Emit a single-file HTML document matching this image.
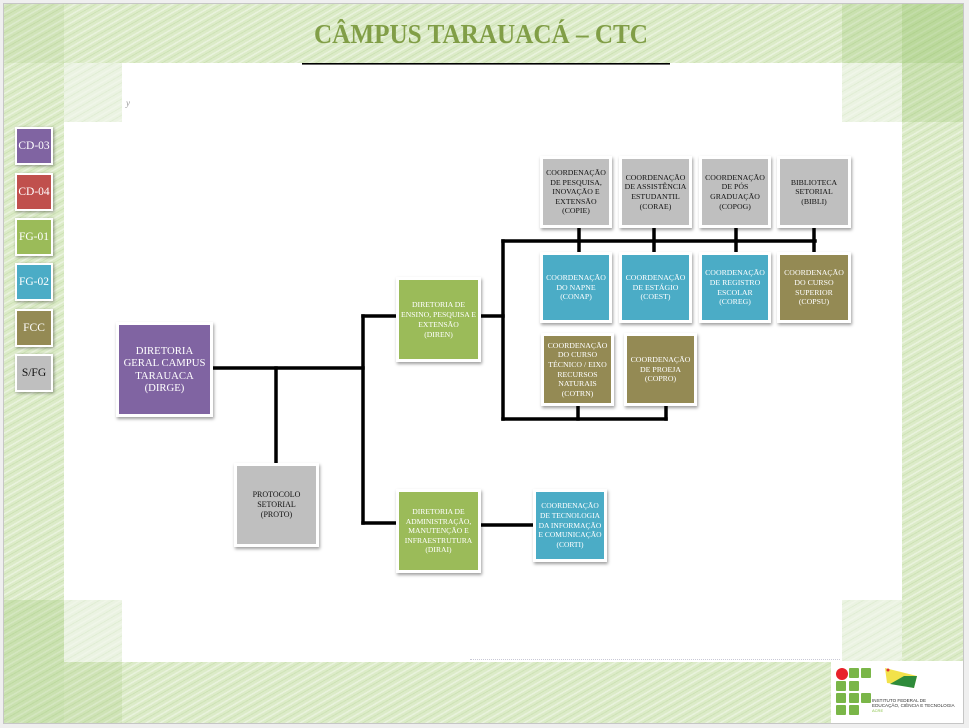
<!DOCTYPE html>
<html><head><meta charset="utf-8">
<style>
html,body{margin:0;padding:0;}
body{width:969px;height:728px;position:relative;overflow:hidden;background:#efefef;font-family:"Liberation Serif","DejaVu Serif",serif;}
.abs{position:absolute;}
.slide{position:absolute;left:4px;top:4px;width:959px;height:719px;background:#dcebc8;box-shadow:0 0 0 1px #c6c6c6;}
.tex{position:absolute;background:repeating-linear-gradient(150deg, rgba(255,255,255,0.38) 0 1.5px, rgba(255,255,255,0) 1.5px 3.5px, rgba(110,170,60,0.13) 3.5px 4.5px, rgba(255,255,255,0) 4.5px 7px);}
.dk{position:absolute;background:rgba(130,185,80,0.2);}
.lt{position:absolute;background:#ebf3e2;}
.white{position:absolute;left:64px;top:63px;width:838px;height:599px;background:#fff;}
.b{position:absolute;box-sizing:border-box;border:3px solid #fff;box-shadow:1px 2px 3px rgba(0,0,0,0.38);display:flex;align-items:center;justify-content:center;text-align:center;white-space:nowrap;color:#fff;font-size:7.8px;line-height:9.6px;}
.lg{position:absolute;box-sizing:border-box;left:15px;width:38px;height:38px;border:2px solid #fff;box-shadow:1px 1px 3px rgba(0,0,0,0.4);display:flex;align-items:center;justify-content:center;color:#fff;font-size:11.5px;}
.pu{background:#8064a2;} .rd{background:#c0504d;} .gr{background:#9bbb59;} .te{background:#4bacc6;} .ol{background:#948a54;} .gy{background:#bfbfbf;color:#111;}
</style></head>
<body>
<div class="slide"></div>
<div class="tex" style="left:4px;top:4px;width:959px;height:719px;"></div>
<div class="dk" style="left:4px;top:4px;width:60px;height:59px;opacity:.6"></div>
<div class="dk" style="left:842px;top:4px;width:121px;height:59px;"></div>
<div class="dk" style="left:902px;top:4px;width:61px;height:118px;"></div>
<div class="dk" style="left:4px;top:600px;width:60px;height:123px;"></div>
<div class="dk" style="left:64px;top:662px;width:58px;height:61px;opacity:.7"></div>
<div class="white"></div>
<div class="lt" style="left:64px;top:63px;width:58px;height:59px;"></div>
<div class="lt" style="left:842px;top:63px;width:60px;height:59px;"></div>
<div class="lt" style="left:64px;top:600px;width:58px;height:62px;"></div>
<div class="lt" style="left:842px;top:600px;width:60px;height:62px;"></div>
<div class="tex" style="left:64px;top:63px;width:58px;height:59px;opacity:.6"></div>
<div class="tex" style="left:842px;top:63px;width:60px;height:59px;opacity:.6"></div>
<div class="tex" style="left:64px;top:600px;width:58px;height:62px;opacity:.6"></div>
<div class="tex" style="left:842px;top:600px;width:60px;height:62px;opacity:.6"></div>
<div class="abs" style="left:470px;top:659px;width:370px;height:0;border-top:1px dotted #c9c9d6;"></div>

<svg class="abs" style="left:0;top:0" width="969" height="728">
  <text x="314" y="43" textLength="334" lengthAdjust="spacingAndGlyphs" font-family="Liberation Serif, serif" font-size="27" font-weight="bold" fill="#819e47">CÂMPUS TARAUACÁ – CTC</text>
  <rect x="302" y="63" width="368" height="1.6" fill="#000"/>
  <text x="126" y="106" font-family="Liberation Serif, serif" font-size="9" font-style="italic" fill="#999">y</text>
</svg>

<svg class="abs" style="left:0;top:0" width="969" height="728">
  <g stroke="#000" stroke-width="3.5" fill="none" stroke-linecap="square">
    <path d="M213,368 H363"/>
    <path d="M276,368 V463"/>
    <path d="M363,316 V523"/>
    <path d="M363,316 H397"/>
    <path d="M363,523 H397"/>
    <path d="M481,316 H503"/>
    <path d="M503,241 V419"/>
    <path d="M503,241 H815"/>
    <path d="M579,228 V252"/>
    <path d="M654,228 V252"/>
    <path d="M736,228 V252"/>
    <path d="M814,228 V252"/>
    <path d="M503,419 H666"/>
    <path d="M578,406 V419"/>
    <path d="M666,406 V419"/>
    <path d="M481,525 H533"/>
  </g>
</svg>

<div class="lg pu" style="top:127px;">CD-03</div>
<div class="lg rd" style="top:173px;">CD-04</div>
<div class="lg gr" style="top:218px;">FG-01</div>
<div class="lg te" style="top:263px;">FG-02</div>
<div class="lg ol" style="top:309px;">FCC</div>
<div class="lg gy" style="top:354px;">S/FG</div>

<div class="b pu" style="left:116px;top:322px;width:97px;height:95px;font-size:10.7px;line-height:12.5px;">DIRETORIA<br>GERAL CAMPUS<br>TARAUACA<br>(DIRGE)</div>
<div class="b gy" style="left:234px;top:463px;width:85px;height:84px;font-size:8px;line-height:10px;">PROTOCOLO<br>SETORIAL<br>(PROTO)</div>
<div class="b gr" style="left:396px;top:277px;width:85px;height:85px;font-size:7.7px;line-height:10px;">DIRETORIA DE<br>ENSINO, PESQUISA E<br>EXTENSÃO<br>(DIREN)</div>
<div class="b gr" style="left:396px;top:489px;width:85px;height:84px;font-size:7.6px;line-height:9.6px;">DIRETORIA DE<br>ADMINISTRAÇÃO,<br>MANUTENÇÃO E<br>INFRAESTRUTURA<br>(DIRAI)</div>
<div class="b te" style="left:533px;top:489px;width:74px;height:73px;font-size:7.5px;line-height:9.8px;">COORDENAÇÃO<br>DE TECNOLOGIA<br>DA INFORMAÇÃO<br>E COMUNICAÇÃO<br>(CORTI)</div>

<div class="b gy" style="left:540px;top:156px;width:72px;height:72px;">COORDENAÇÃO<br>DE PESQUISA,<br>INOVAÇÃO E<br>EXTENSÃO<br>(COPIE)</div>
<div class="b gy" style="left:619px;top:156px;width:73px;height:72px;">COORDENAÇÃO<br>DE ASSISTÊNCIA<br>ESTUDANTIL<br>(CORAE)</div>
<div class="b gy" style="left:699px;top:156px;width:72px;height:72px;">COORDENAÇÃO<br>DE PÓS<br>GRADUAÇÃO<br>(COPOG)</div>
<div class="b gy" style="left:777px;top:156px;width:74px;height:72px;">BIBLIOTECA<br>SETORIAL<br>(BIBLI)</div>

<div class="b te" style="left:540px;top:252px;width:72px;height:71px;">COORDENAÇÃO<br>DO NAPNE<br>(CONAP)</div>
<div class="b te" style="left:619px;top:252px;width:73px;height:71px;">COORDENAÇÃO<br>DE ESTÁGIO<br>(COEST)</div>
<div class="b te" style="left:699px;top:252px;width:72px;height:71px;">COORDENAÇÃO<br>DE REGISTRO<br>ESCOLAR<br>(COREG)</div>
<div class="b ol" style="left:777px;top:252px;width:74px;height:71px;">COORDENAÇÃO<br>DO CURSO<br>SUPERIOR<br>(COPSU)</div>

<div class="b ol" style="left:541px;top:333px;width:73px;height:73px;">COORDENAÇÃO<br>DO CURSO<br>TÉCNICO / EIXO<br>RECURSOS<br>NATURAIS<br>(COTRN)</div>
<div class="b ol" style="left:624px;top:333px;width:73px;height:73px;">COORDENAÇÃO<br>DE PROEJA<br>(COPRO)</div>

<div class="abs" style="left:831px;top:661px;width:132px;height:62px;background:#fff;"></div>
<svg class="abs" style="left:0;top:0" width="969" height="728">
  <g fill="#7ab648">
    <rect x="849" y="668" width="10" height="10" rx="1"/>
    <rect x="861" y="668" width="10" height="10" rx="1"/>
    <rect x="836" y="681" width="10" height="10" rx="1"/>
    <rect x="849" y="681" width="10" height="10" rx="1"/>
    <rect x="836" y="693" width="10" height="10" rx="1"/>
    <rect x="849" y="693" width="10" height="10" rx="1"/>
    <rect x="861" y="693" width="10" height="10" rx="1"/>
    <rect x="836" y="705" width="10" height="10" rx="1"/>
    <rect x="849" y="705" width="10" height="10" rx="1"/>
  </g>
  <circle cx="842" cy="674" r="6" fill="#e8212a"/>
  <polygon points="885,668 917,676 914,688 896,684 887,683" fill="#f2e24a"/>
  <polygon points="890,684 904,676 917,676 914,688" fill="#2e8b3a"/>
  <circle cx="888" cy="670" r="1.5" fill="#d33"/>
  <text x="872" y="702" font-family="Liberation Sans, sans-serif" font-size="4.6" fill="#333">INSTITUTO FEDERAL DE</text>
  <text x="872" y="707" font-family="Liberation Sans, sans-serif" font-size="4.6" fill="#333">EDUCAÇÃO, CIÊNCIA E TECNOLOGIA</text>
  <text x="872" y="712" font-family="Liberation Sans, sans-serif" font-size="4" fill="#8bc34a">ACRE</text>
</svg>
</body></html>
